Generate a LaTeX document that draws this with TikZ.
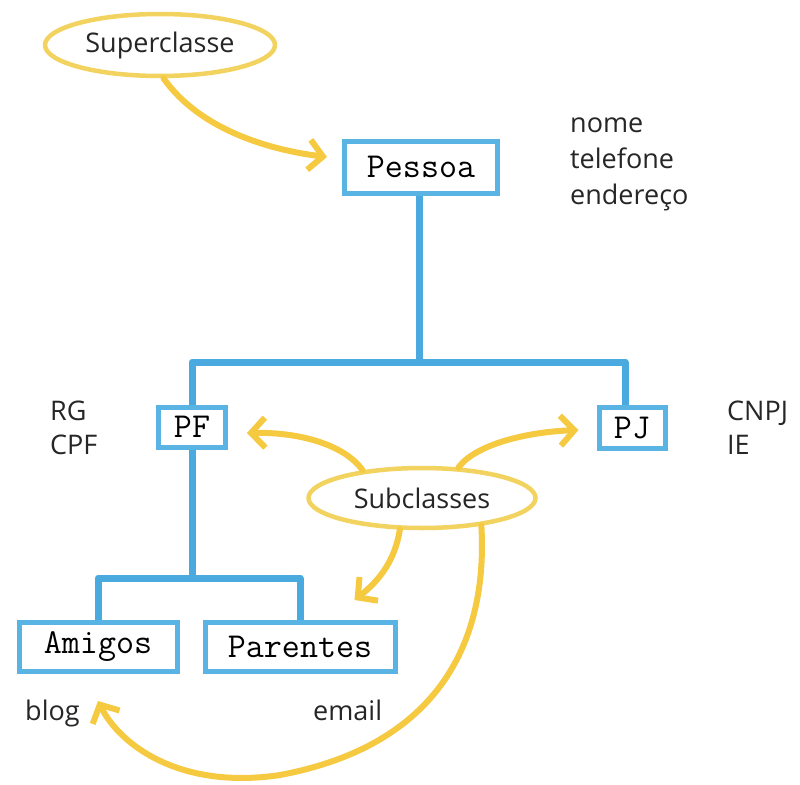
\documentclass[tikz,border=0pt]{standalone}
\usepackage{fontspec}
\setmainfont{Open Sans}
\usetikzlibrary{shapes.geometric,arrows.meta,calc}
\definecolor{boxblue}{HTML}{5AB4E3}
\definecolor{lineblue}{HTML}{4AAAE0}
\definecolor{arrowyellow}{HTML}{F5C940}
\definecolor{ellyellow}{HTML}{F3D35F}
\definecolor{inkgray}{HTML}{262626}
\begin{document}
\begin{tikzpicture}[x=1pt,y=-1pt,
  cls/.style={rectangle, draw=boxblue, line width=5pt, fill=white, inner sep=0pt,
    font=\fontsize{35}{40}\selectfont\ttfamily, text=black},
  note/.style={ellipse, draw=ellyellow, line width=4.5pt, fill=white, inner sep=0pt,
    font=\fontsize{27}{32}\selectfont, text=inkgray},
  lab/.style={anchor=base west, inner sep=0pt, font=\fontsize{27}{32}\selectfont, text=inkgray},
  tree/.style={draw=lineblue, line width=7pt, line join=round},
  yarrow/.style={draw=arrowyellow, line width=6pt, line cap=round, line join=round,
    -{Straight Barb[length=14pt,width=30pt]}}]
\useasboundingbox[fill=white] (0,0) rectangle (800,784);

% class boxes
\node[cls, minimum width=153pt, minimum height=52pt] (pessoa) at (421,167) {Pessoa};
\node[cls, minimum width=67pt, minimum height=40pt] (pf) at (192,427) {PF};
\node[cls, minimum width=66pt, minimum height=41pt] (pj) at (632,428) {PJ};
\node[cls, minimum width=158pt, minimum height=49pt] (amigos) at (98,647) {Amigos};
\node[cls, minimum width=190pt, minimum height=49pt] (parentes) at (300,647) {Parentes};

% callout ellipses
\node[note, minimum width=230pt, minimum height=62pt] (super) at (160,45) {Superclasse};
\node[note, minimum width=227pt, minimum height=60pt] (sub) at (422,498) {Subclasses};

% attribute labels
\node[lab] (nome) at (570,132) {nome};
\node[lab] (tel) at (570,168) {telefone};
\node[lab] (ender) at (570,204) {endereço};
\node[lab] (rg) at (50,420) {RG};
\node[lab] (cpf) at (50,454) {CPF};
\node[lab] (cnpj) at (727,420) {CNPJ};
\node[lab] (ie) at (727,454) {IE};
\node[lab] (blog) at (25,720) {blog};
\node[lab] (email) at (313,720) {email};

% inheritance tree
\coordinate (j1) at (419,362);
\coordinate (j2) at (192,578);
\draw[tree] (pessoa.south -| j1) -- (j1);
\draw[tree] (pf.north) |- (j1) -| ([xshift=-7pt]pj.north);
\draw[tree] (pf.south) -- (j2);
\draw[tree] (amigos.north) |- (j2) -| (parentes.north);

% yellow arrows
\draw[yarrow] (super.-84) .. controls (200,130) and (270,150) .. ([shift={(-15,-10)}]pessoa.west);
\draw[yarrow] (sub.155) .. controls (345,445) and (300,432) .. ([shift={(19,6)}]pf.east);
\draw[yarrow] (sub.40) .. controls (475,445) and (525,432) .. ([shift={(-18,2)}]pj.west);
\draw[yarrow] (sub.-125) .. controls (395,560) and (380,580) .. ([shift={(-43,-20)}]parentes.north east);
\draw[yarrow] (sub.-25) .. controls (488,640) and (440,745) .. (280,775)
  .. controls (180,790) and (120,745) .. ([shift={(0,27)}]amigos.south);
\end{tikzpicture}
\end{document}
